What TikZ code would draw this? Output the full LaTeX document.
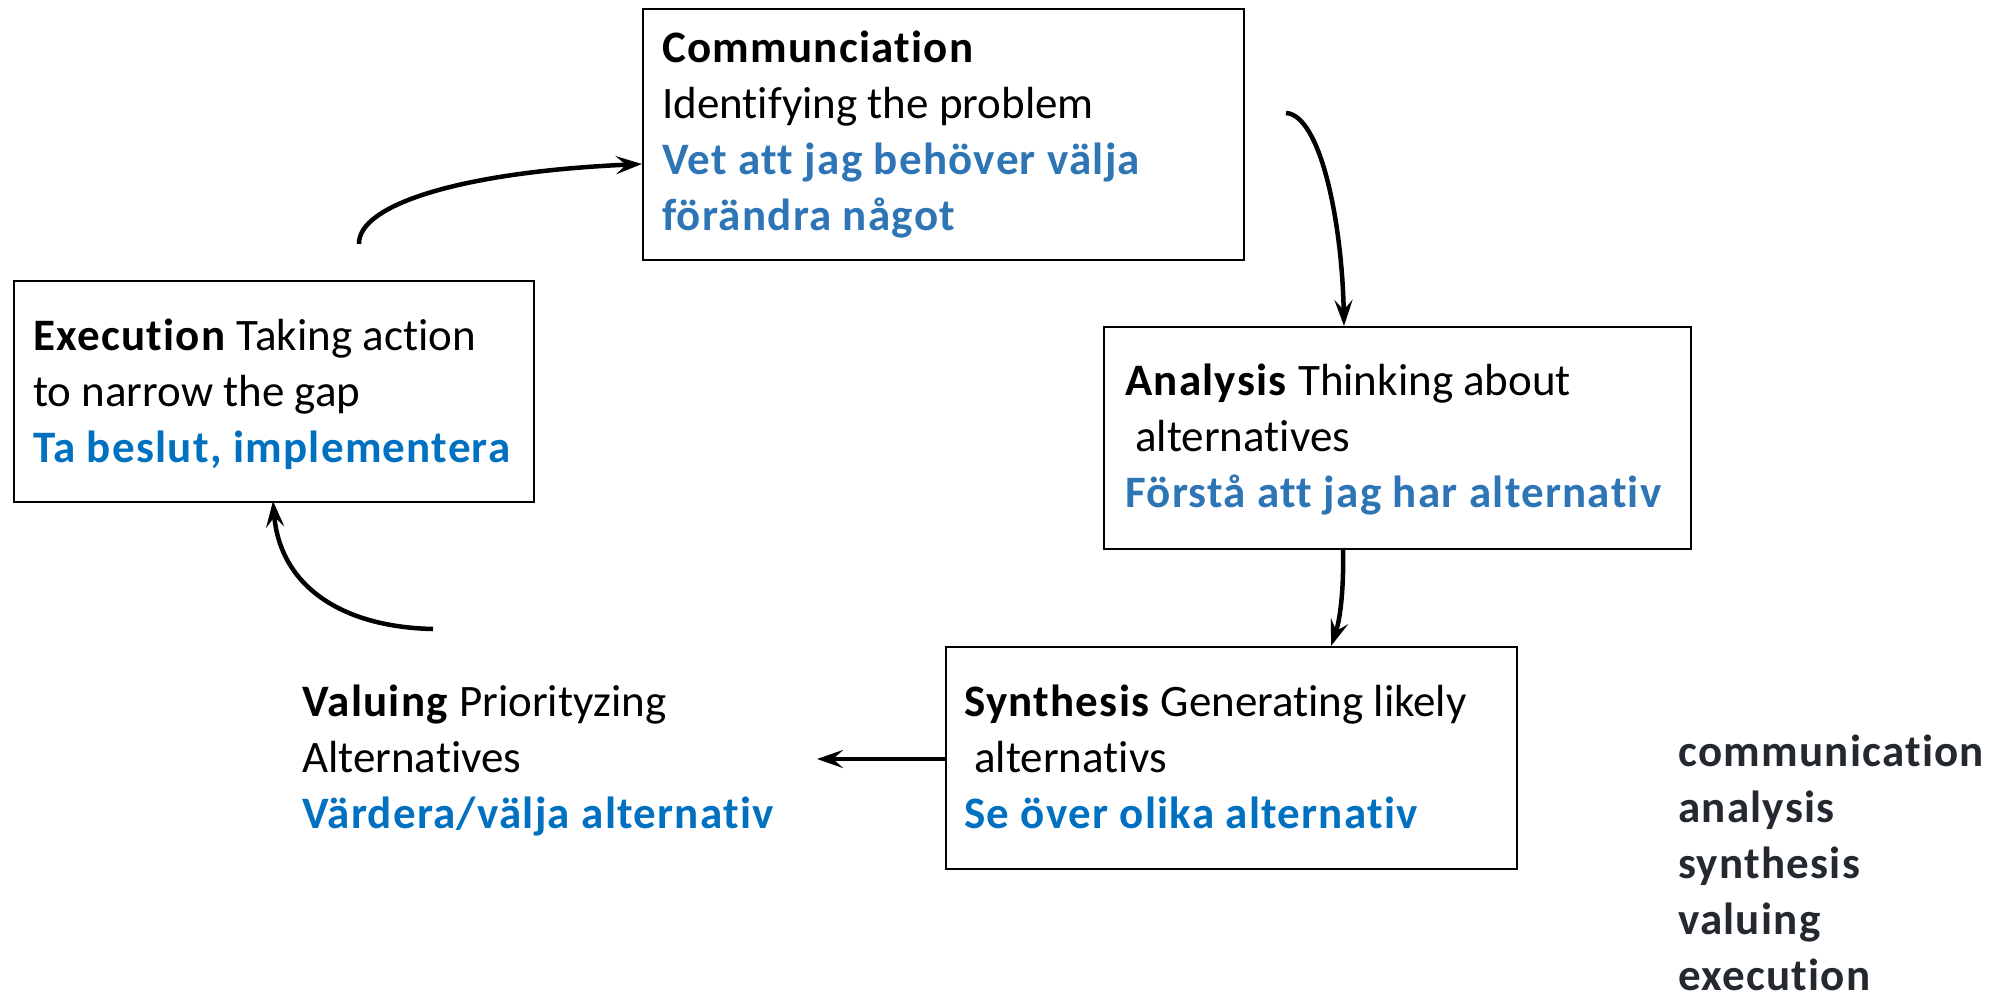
\documentclass[tikz,border=0pt]{standalone}
\usepackage{fontspec}
\setmainfont{Carlito}[Ligatures=NoCommon, BoldFeatures={LetterSpace=2.8}]
\usetikzlibrary{arrows.meta}
\definecolor{blueA}{RGB}{46,117,182}
\definecolor{blueB}{RGB}{0,112,192}
\definecolor{listink}{RGB}{36,41,48}
\newcommand{\lines}[1]{\begin{tabular}[t]{@{}l@{}}#1\end{tabular}}
\tikzset{
  box/.style={draw=black, line width=2.2pt, inner sep=0pt, anchor=north west},
  lbl/.style={anchor=base west, inner sep=0pt, font=\fontsize{45}{56}\selectfont},
  flow/.style={line width=4.5pt, -{Stealth[length=26pt,width=18pt,inset=10pt]}},
}
\begin{document}
\begin{tikzpicture}[x=1pt,y=-1pt]
\useasboundingbox[fill=white] (0,0) rectangle (2013,1004);

% boxes
\node[box, minimum width=601pt, minimum height=251pt] (comm) at (642,8) {};
\node[box, minimum width=520pt, minimum height=221pt] (exc) at (13,280) {};
\node[box, minimum width=587pt, minimum height=222pt] (ana) at (1103,326) {};
\node[box, minimum width=571pt, minimum height=222pt] (syn) at (945,646) {};

% texts
\node[lbl] (commtxt) at (662,62) {\lines{\textbf{Communciation}\\
  Identifying the problem\\
  \textcolor{blueA}{\textbf{Vet att jag behöver välja}}\\
  \textcolor{blueA}{\textbf{förändra något}}}};
\node[lbl] (exctxt) at (33,350) {\lines{\textbf{Execution} Taking action\\
  to narrow the gap\\
  \textcolor{blueB}{\textbf{Ta beslut, implementera}}}};
\node[lbl] (anatxt) at (1125,395) {\lines{\textbf{Analysis} Thinking about\\
  \ alternatives\\
  \textcolor{blueA}{\textbf{Förstå att jag har alternativ}}}};
\node[lbl] (syntxt) at (964,716) {\lines{\textbf{Synthesis} Generating likely\\
  \ alternativs\\
  \textcolor{blueB}{\textbf{Se över olika alternativ}}}};
\node[lbl] (val) at (302,716) {\lines{\textbf{Valuing} Priorityzing\\
  Alternatives\\
  \textcolor{blueB}{\textbf{Värdera/välja alternativ}}}};
\node[lbl, text=listink] (list) at (1678,766) {\lines{\textbf{communication}\\
  \textbf{analysis}\\ \textbf{synthesis}\\ \textbf{valuing}\\ \textbf{execution}}};

% connector ends
\coordinate (excOut) at (359,244);
\coordinate (commIn) at (comm.west |- 0,164);
\coordinate (commOut) at (1286,113);
\coordinate (anaIn) at (1344,326);
\coordinate (anaOut) at (1343,548);
\coordinate (synIn) at (1331,646);
\coordinate (synOut) at (syn.west |- 0,759);
\coordinate (valIn) at (817,759);
\coordinate (valOut) at (433,629);
\coordinate (excIn) at (273,501);

% connectors
\draw[flow] (excOut) .. controls (358,205) and (460,172) .. (commIn);
\draw[flow] (commOut) .. controls (1320,115) and (1342,220) .. (anaIn);
\draw[flow] (anaOut) .. controls (1344,590) and (1340,620) .. (synIn);
\draw[flow] (synOut) -- (valIn);
\draw[flow] (valOut) .. controls (340,627) and (280,585) .. (excIn);
\end{tikzpicture}
\end{document}
